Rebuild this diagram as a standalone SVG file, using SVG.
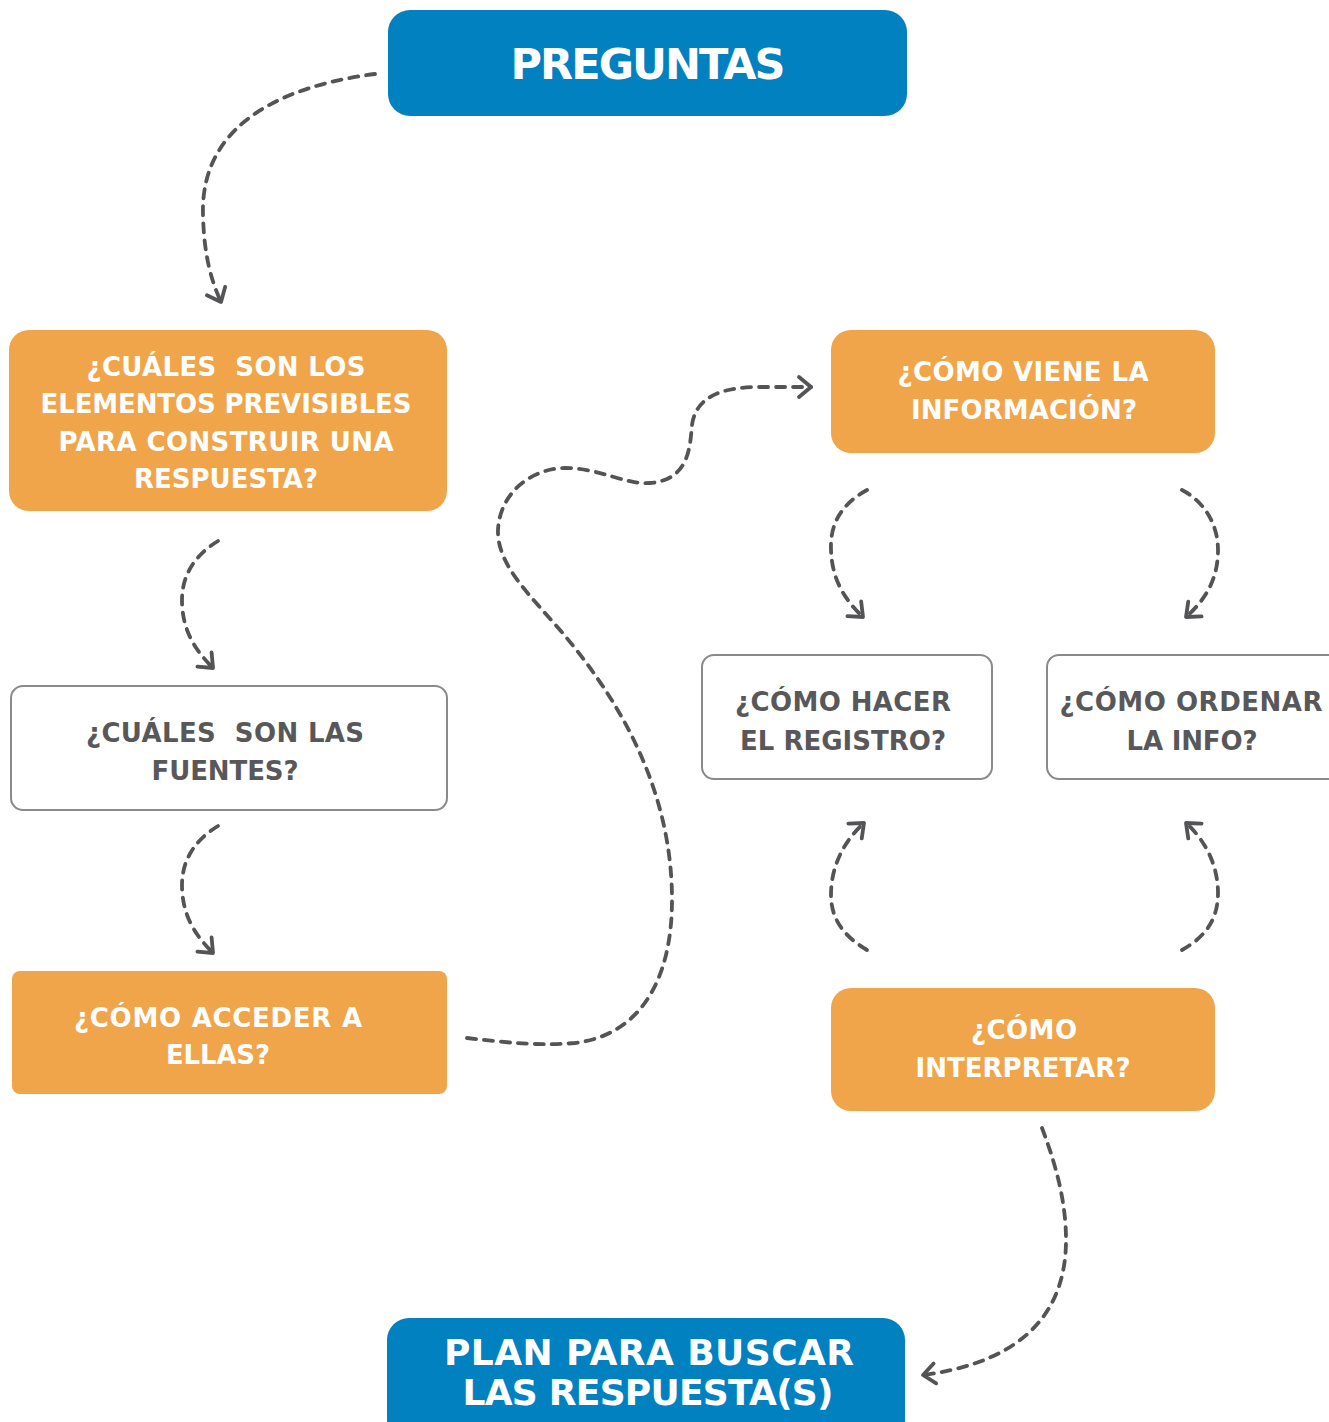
<svg xmlns="http://www.w3.org/2000/svg" width="1329" height="1422" viewBox="0 0 1329 1422">
<defs>
<style>
.blue{fill:#0281C1;}
.orange{fill:#F0A54A;}
.white{fill:#FFFFFF;stroke:#8A8A8A;stroke-width:2;}
text{font-family:"DejaVu Sans","Liberation Sans",sans-serif;font-weight:700;text-anchor:middle;white-space:pre;}
.tw{fill:#FFFFFF;font-size:26px;}
.tg{fill:#58585A;font-size:26px;}
.tb{fill:#FFFFFF;font-size:43px;}
.tp{fill:#FFFFFF;font-size:36px;}
.con{fill:none;stroke:#545456;stroke-width:3.8;stroke-dasharray:9 8;stroke-linecap:round;}
</style>
<marker id="arr" markerUnits="userSpaceOnUse" markerWidth="34" markerHeight="34" refX="17" refY="17" orient="auto" viewBox="0 0 34 34">
<path d="M5,7 L17,17 L5,27" fill="none" stroke="#545456" stroke-width="3.8" stroke-linecap="round" stroke-linejoin="round"/>
</marker>
</defs>
<rect width="1329" height="1422" fill="#FFFFFF"/>

<g id="connectors">
<path class="con" marker-end="url(#arr)" d="M375,74 C290,85 200,120 203,215 C204,255 211,280 221,302"/>
<path class="con" marker-end="url(#arr)" d="M218,541 C195,555 182,575 182,600 C182,630 195,650 213,668"/>
<path class="con" marker-end="url(#arr)" d="M218,826 C195,840 182,860 182,885 C182,915 195,935 213,953"/>
<path class="con" marker-end="url(#arr)" d="M467,1038 C510,1043 540,1046 575,1043 C640,1035 672,980 672,900 C672,790 620,700 560,630 C530,595 497,565 498,530 C500,490 535,468 565,468 C600,468 625,485 650,483 C690,480 690,445 692,425 C696,395 725,387 760,387 L811,387"/>
<path class="con" marker-end="url(#arr)" d="M867,490 C840,505 830,525 831,550 C832,580 845,600 863,617"/>
<path class="con" marker-end="url(#arr)" d="M1182,490 C1205,502 1218,525 1218,550 C1218,580 1205,600 1186,617"/>
<path class="con" marker-end="url(#arr)" d="M867,950 C845,937 831,920 831,895 C831,865 845,840 864,823"/>
<path class="con" marker-end="url(#arr)" d="M1182,950 C1205,937 1218,920 1218,893 C1218,865 1205,840 1186,823"/>
<path class="con" marker-end="url(#arr)" d="M1042,1128 C1060,1175 1066,1210 1066,1240 C1066,1330 1000,1365 923,1375"/>
</g>

<g id="n-preguntas">
<rect class="blue" x="388" y="10" width="519" height="106" rx="22"/>
<text class="tb" x="648" y="79" textLength="275" lengthAdjust="spacing">PREGUNTAS</text>
</g>

<g id="n-elementos">
<rect class="orange" x="9" y="330" width="438" height="181" rx="20"/>
<text class="tw" x="226" y="376" textLength="279" lengthAdjust="spacing">¿CUÁLES  SON LOS</text>
<text class="tw" x="226" y="413" textLength="371" lengthAdjust="spacing">ELEMENTOS PREVISIBLES</text>
<text class="tw" x="226" y="451" textLength="335" lengthAdjust="spacing">PARA CONSTRUIR UNA</text>
<text class="tw" x="226" y="488" textLength="184" lengthAdjust="spacing">RESPUESTA?</text>
</g>

<g id="n-fuentes">
<rect class="white" x="11" y="686" width="436" height="124" rx="12"/>
<text class="tg" x="225" y="742" textLength="278" lengthAdjust="spacing">¿CUÁLES  SON LAS</text>
<text class="tg" x="225" y="780" textLength="147" lengthAdjust="spacing">FUENTES?</text>
</g>

<g id="n-acceder">
<rect class="orange" x="12" y="971" width="435" height="123" rx="8"/>
<text class="tw" x="218" y="1027" textLength="288" lengthAdjust="spacing">¿CÓMO ACCEDER A</text>
<text class="tw" x="218" y="1064" textLength="104" lengthAdjust="spacing">ELLAS?</text>
</g>

<g id="n-viene">
<rect class="orange" x="831" y="330" width="384" height="123" rx="20"/>
<text class="tw" x="1023" y="381" textLength="251" lengthAdjust="spacing">¿CÓMO VIENE LA</text>
<text class="tw" x="1024" y="419" textLength="226" lengthAdjust="spacing">INFORMACIÓN?</text>
</g>

<g id="n-registro">
<rect class="white" x="702" y="655" width="290" height="124" rx="12"/>
<text class="tg" x="843" y="711" textLength="216" lengthAdjust="spacing">¿CÓMO HACER</text>
<text class="tg" x="843" y="750" textLength="206" lengthAdjust="spacing">EL REGISTRO?</text>
</g>

<g id="n-ordenar">
<rect class="white" x="1047" y="655" width="300" height="124" rx="12"/>
<text class="tg" x="1191" y="711" textLength="263" lengthAdjust="spacing">¿CÓMO ORDENAR</text>
<text class="tg" x="1192" y="750" textLength="131" lengthAdjust="spacing">LA INFO?</text>
</g>

<g id="n-interpretar">
<rect class="orange" x="831" y="988" width="384" height="123" rx="20"/>
<text class="tw" x="1024" y="1039" textLength="106" lengthAdjust="spacing">¿CÓMO</text>
<text class="tw" x="1023" y="1077" textLength="215" lengthAdjust="spacing">INTERPRETAR?</text>
</g>

<g id="n-plan">
<rect class="blue" x="387" y="1318" width="518" height="124" rx="22"/>
<text class="tp" x="649" y="1365" textLength="410" lengthAdjust="spacing">PLAN PARA BUSCAR</text>
<text class="tp" x="648" y="1405" textLength="371" lengthAdjust="spacing">LAS RESPUESTA(S)</text>
</g>
</svg>
